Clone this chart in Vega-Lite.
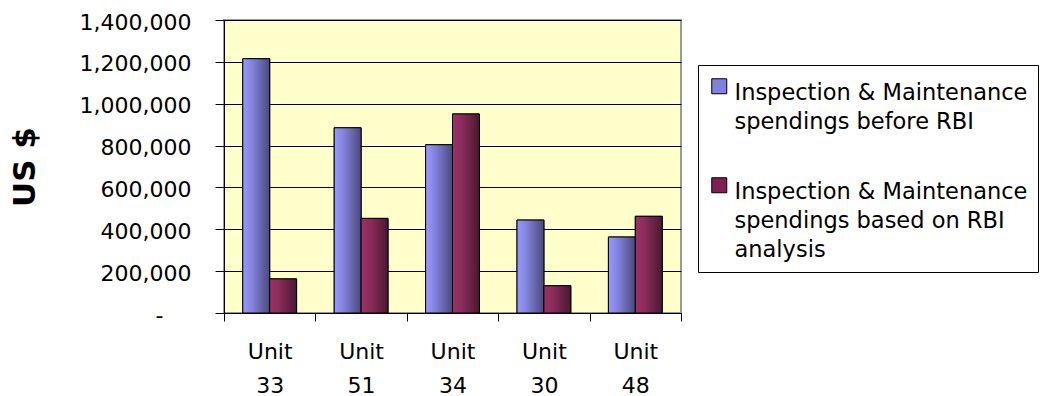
{
  "$schema": "https://vega.github.io/schema/vega-lite/v6.json",
  "width": 457,
  "height": 293,
  "autosize": {"type": "none"},
  "padding": {"left": 224, "top": 20, "right": 359, "bottom": 83},
  "background": "white",
  "config": {
    "view": {"fill": "#FFFFCC", "stroke": "#999999", "strokeWidth": 2},
    "font": "DejaVu Sans"
  },
  "data": {
    "values": [
      {"unit": "Unit 33", "series": "Inspection & Maintenance spendings before RBI", "value": 1215000},
      {"unit": "Unit 33", "series": "Inspection & Maintenance spendings based on RBI analysis", "value": 163000},
      {"unit": "Unit 51", "series": "Inspection & Maintenance spendings before RBI", "value": 885000},
      {"unit": "Unit 51", "series": "Inspection & Maintenance spendings based on RBI analysis", "value": 452000},
      {"unit": "Unit 34", "series": "Inspection & Maintenance spendings before RBI", "value": 804000},
      {"unit": "Unit 34", "series": "Inspection & Maintenance spendings based on RBI analysis", "value": 951000},
      {"unit": "Unit 30", "series": "Inspection & Maintenance spendings before RBI", "value": 444000},
      {"unit": "Unit 30", "series": "Inspection & Maintenance spendings based on RBI analysis", "value": 130000},
      {"unit": "Unit 48", "series": "Inspection & Maintenance spendings before RBI", "value": 363000},
      {"unit": "Unit 48", "series": "Inspection & Maintenance spendings based on RBI analysis", "value": 462000}
    ]
  },
  "encoding": {
    "x": {
      "field": "unit",
      "type": "nominal",
      "sort": null,
      "scale": {"paddingInner": 0, "paddingOuter": 0},
      "axis": {
        "title": null,
        "labelAngle": 0,
        "tickBand": "extent",
        "tickSize": 8,
        "tickColor": "black",
        "domainColor": "black",
        "labelFontSize": 22,
        "labelFont": "DejaVu Sans",
        "labelColor": "black",
        "labelLineHeight": 34,
        "labelPadding": 20,
        "labelExpr": "datum.label ? ['Unit', replace(datum.label, 'Unit ', '')] : ''",
        "grid": false
      }
    },
    "xOffset": {
      "field": "series",
      "type": "nominal",
      "sort": null,
      "scale": {"paddingInner": 0, "paddingOuter": 0.7}
    },
    "y": {
      "field": "value",
      "type": "quantitative",
      "scale": {"domain": [0, 1400000], "nice": false},
      "axis": {
        "values": [0, 200000, 400000, 600000, 800000, 1000000, 1200000, 1400000],
        "title": "US $",
        "titleFont": "DejaVu Sans",
        "titleFontSize": 31,
        "titleFontWeight": "bold",
        "titleColor": "black",
        "titlePadding": 38,
        "labelFontSize": 22,
        "labelFont": "DejaVu Sans",
        "labelColor": "black",
        "labelPadding": {"condition": {"test": "datum.value == 0", "value": 52}, "value": 24},
        "labelOffset": 2,
        "tickSize": 9,
        "tickColor": "black",
        "domainColor": "black",
        "grid": true,
        "gridColor": "black",
        "gridWidth": 1,
        "gridOpacity": 1,
        "labelExpr": "datum.value == 0 ? '-' : format(datum.value, ',')"
      }
    }
  },
  "layer": [
    {
      "mark": {"type": "bar", "stroke": "black", "strokeWidth": 1},
      "encoding": {
        "color": {
          "field": "series",
          "type": "nominal",
          "sort": null,
          "scale": {"range": ["#8080E0", "#802050"]},
          "legend": {
            "orient": "none",
            "legendX": 474,
            "legendY": 45,
            "title": null,
            "strokeColor": "black",
            "fillColor": "white",
            "padding": 10,
            "symbolType": "square",
            "symbolSize": 225,
            "symbolStrokeColor": "black",
            "symbolStrokeWidth": 1,
            "symbolOpacity": 1,
            "labelFontSize": 22.5,
            "labelFont": "DejaVu Sans",
            "labelColor": "black",
            "labelOffset": 4,
            "labelLimit": 500,
            "labelBaseline": "top",
            "rowPadding": 40,
            "labelExpr": "datum.label == 'Inspection & Maintenance spendings before RBI' ? ['Inspection & Maintenance', 'spendings before RBI'] : ['Inspection & Maintenance', 'spendings based on RBI', 'analysis']",
            "encode": {
              "labels": {"update": {"lineHeight": {"value": 29}, "dy": {"value": -4}}}
            }
          }
        }
      }
    },
    {
      "mark": {"type": "bar", "stroke": "black", "strokeWidth": 1},
      "encoding": {
        "fill": {
          "condition": {
            "test": "datum.series == 'Inspection & Maintenance spendings before RBI'",
            "value": {
              "gradient": "linear", "x1": 0, "x2": 1, "y1": 0, "y2": 0,
              "stops": [
                {"offset": 0, "color": "#9999FF"},
                {"offset": 0.35, "color": "#8282DD"},
                {"offset": 1, "color": "#4A4A7C"}
              ]
            }
          },
          "value": {
            "gradient": "linear", "x1": 0, "x2": 1, "y1": 0, "y2": 0,
            "stops": [
              {"offset": 0, "color": "#993366"},
              {"offset": 0.35, "color": "#8A2C5B"},
              {"offset": 1, "color": "#4A1832"}
            ]
          }
        }
      }
    }
  ]
}
